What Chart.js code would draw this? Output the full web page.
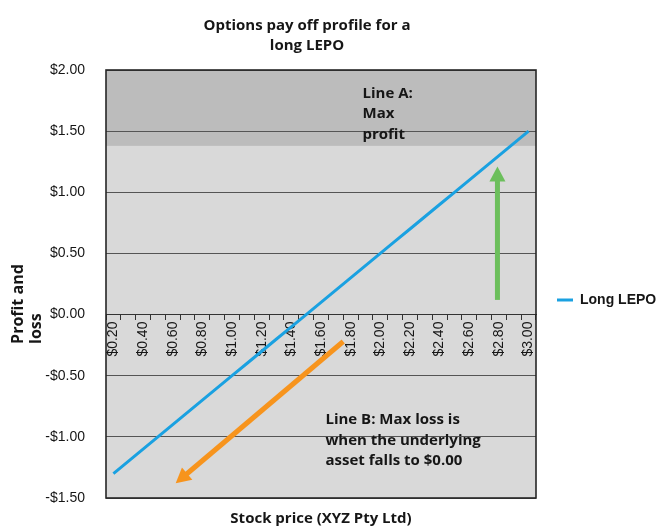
<!DOCTYPE html>
<html>
<head>
<meta charset="utf-8">
<script src="https://cdn.jsdelivr.net/npm/chart.js@4/dist/chart.umd.min.js"></script>
<style>
  html, body { margin: 0; padding: 0; background: #ffffff; }
  #wrap { width: 656px; height: 528px; }
</style>
</head>
<body>
<div id="wrap"><canvas id="chart" width="656" height="528"></canvas></div>
<script>
// Stock prices on the category axis (every other one is labelled)
const prices = [0.20, 0.30, 0.40, 0.50, 0.60, 0.70, 0.80, 0.90, 1.00, 1.10,
                1.20, 1.30, 1.40, 1.50, 1.60, 1.70, 1.80, 1.90, 2.00, 2.10,
                2.20, 2.30, 2.40, 2.50, 2.60, 2.70, 2.80, 2.90, 3.00];
// Profit / loss of the long LEPO at each price
const longLepo = [-1.30, -1.20, -1.10, -1.00, -0.90, -0.80, -0.70, -0.60, -0.50, -0.40,
                  -0.30, -0.20, -0.10, 0.00, 0.10, 0.20, 0.30, 0.40, 0.50, 0.60,
                  0.70, 0.80, 0.90, 1.00, 1.10, 1.20, 1.30, 1.40, 1.50];
const priceLabels = prices.map(p => '$' + p.toFixed(2));
const yTicks = [-1.50, -1.00, -0.50, 0.00, 0.50, 1.00, 1.50, 2.00];

// Shaded "max profit" zone starts here
const maxProfitLevel = 1.38;

// Arrows and notes in (price, profit) units
const profitArrow = { from: [2.79, 0.12], to: [2.79, 1.21] };
const lossArrow = { from: [1.75, -0.22], to: [0.62, -1.38] };
const noteA = { at: [1.88, 1.81], lines: ['Line A:', 'Max', 'profit'] };
const noteB = { at: [1.63, -0.86], lines: ['Line B: Max loss is', 'when the underlying', 'asset falls to $0.00'] };

const BLUE = '#1aa1e1';
const GREEN = '#6cbf5c';
const ORANGE = '#f7941d';
const TEXT = '#161616';
const HEAD_FONT = '"Open Sans", "Noto Sans", sans-serif';
const AXIS_FONT = '"Liberation Sans", Arial, sans-serif';

function money(v) {
  const s = '$' + Math.abs(v).toFixed(2);
  return v < 0 ? '-' + s : s;
}

function px(chart, p) {
  const x = chart.scales.x.getPixelForValue((p[0] - prices[0]) / 0.1);
  const y = chart.scales.y.getPixelForValue(p[1]);
  return [x, y];
}

function drawArrow(ctx, a, b, color, width, headLen, headW) {
  const ang = Math.atan2(b[1] - a[1], b[0] - a[0]);
  const cx = Math.cos(ang), sy = Math.sin(ang);
  const baseX = b[0] - cx * headLen, baseY = b[1] - sy * headLen;
  ctx.save();
  ctx.strokeStyle = color;
  ctx.fillStyle = color;
  ctx.lineWidth = width;
  ctx.lineCap = 'butt';
  ctx.beginPath();
  ctx.moveTo(a[0], a[1]);
  ctx.lineTo(baseX + cx, baseY + sy);
  ctx.stroke();
  ctx.beginPath();
  ctx.moveTo(b[0], b[1]);
  ctx.lineTo(baseX - sy * headW / 2, baseY + cx * headW / 2);
  ctx.lineTo(baseX + sy * headW / 2, baseY - cx * headW / 2);
  ctx.closePath();
  ctx.fill();
  ctx.restore();
}

function drawNote(ctx, chart, note) {
  const [x, y] = px(chart, note.at);
  ctx.save();
  ctx.fillStyle = TEXT;
  ctx.font = 'bold 15px ' + HEAD_FONT;
  ctx.textAlign = 'left';
  ctx.textBaseline = 'middle';
  note.lines.forEach((t, i) => ctx.fillText(t, x, y + i * 20.5));
  ctx.restore();
}

const plotDecor = {
  id: 'plotDecor',
  beforeDraw(chart) {
    const { ctx, chartArea: a } = chart;
    const yb = chart.scales.y.getPixelForValue(maxProfitLevel);
    ctx.save();
    ctx.fillStyle = '#d9d9d9';
    ctx.fillRect(a.left, a.top, a.right - a.left, a.bottom - a.top);
    ctx.fillStyle = '#bcbcbc';
    ctx.fillRect(a.left, a.top, a.right - a.left, yb - a.top);
    ctx.restore();
  },
  afterDatasetsDraw(chart) {
    const { ctx, chartArea: a } = chart;
    drawArrow(ctx, px(chart, profitArrow.from), px(chart, profitArrow.to), GREEN, 5, 15, 16);
    drawArrow(ctx, px(chart, lossArrow.from), px(chart, lossArrow.to), ORANGE, 5, 15, 16);
    drawNote(ctx, chart, noteA);
    drawNote(ctx, chart, noteB);
    ctx.save();
    ctx.strokeStyle = '#262626';
    ctx.lineWidth = 1.6;
    ctx.strokeRect(a.left, a.top, a.right - a.left, a.bottom - a.top);
    ctx.restore();
  },
  afterDraw(chart) {
    const ctx = chart.ctx;
    const base = chart.scales.y.getPixelForValue(-0.24);
    ctx.save();
    ctx.fillStyle = TEXT;
    ctx.font = 'bold 16px ' + HEAD_FONT;
    ctx.textAlign = 'left';
    ctx.textBaseline = 'middle';
    [['Profit and', 18], ['loss', 36]].forEach(([t, x]) => {
      ctx.save();
      ctx.translate(x, base);
      ctx.rotate(-Math.PI / 2);
      ctx.fillText(t, 0, 0);
      ctx.restore();
    });
    ctx.restore();
  }
};

new Chart(document.getElementById('chart'), {
  type: 'line',
  data: {
    labels: priceLabels,
    datasets: [{
      label: 'Long LEPO',
      data: longLepo,
      borderColor: BLUE,
      backgroundColor: BLUE,
      borderWidth: 3,
      pointRadius: 0,
      tension: 0,
      xAxisID: 'x',
      yAxisID: 'y'
    }]
  },
  options: {
    responsive: false,
    animation: false,
    devicePixelRatio: 1,
    // negative left padding pulls the full-width title box left so it sits over the plot + axis
    layout: { padding: { left: -42, right: 0, top: 0, bottom: 0 } },
    scales: {
      x: {
        type: 'category',
        position: { y: 0 },
        offset: true,
        grid: { display: true, drawOnChartArea: false, drawTicks: true, tickLength: 5, offset: true, color: '#333333', lineWidth: 1 },
        border: { display: true, color: '#333333', width: 1 },
        ticks: {
          autoSkip: false,
          minRotation: 90,
          maxRotation: 90,
          padding: 2,
          color: TEXT,
          font: { family: AXIS_FONT, size: 14 },
          callback: (v, i) => (i % 2 === 0 ? priceLabels[i] : '')
        }
      },
      x2: {
        type: 'category',
        position: 'bottom',
        labels: priceLabels,
        grid: { display: false },
        border: { display: false },
        ticks: { display: false },
        title: {
          display: true,
          text: 'Stock price (XYZ Pty Ltd)',
          color: TEXT,
          padding: { top: 0, bottom: 0 },
          font: { family: HEAD_FONT, size: 15, weight: 'bold', lineHeight: 1.2 }
        },
        afterFit: s => { s.height = 30; }
      },
      y: {
        type: 'linear',
        position: 'left',
        min: -1.5,
        max: 2.0,
        afterBuildTicks: s => { s.ticks = yTicks.map(v => ({ value: v })); },
        grid: { color: '#555555', lineWidth: 1, drawTicks: false },
        border: { display: false },
        ticks: {
          padding: 21,
          color: TEXT,
          font: { family: AXIS_FONT, size: 14 },
          callback: v => money(v)
        },
        afterFit: s => { s.width = 148; }
      }
    },
    plugins: {
      title: {
        display: true,
        text: ['Options pay off profile for a', 'long LEPO'],
        color: TEXT,
        padding: { top: 16, bottom: 14 },
        font: { family: HEAD_FONT, size: 15, weight: 'bold', lineHeight: 1.3334 }
      },
      legend: {
        display: true,
        position: 'right',
        fullSize: false,
        maxWidth: 120,
        title: { display: true, text: ' ', padding: 0, font: { size: 16, lineHeight: 2 } },
        labels: {
          usePointStyle: true,
          pointStyle: 'line',
          pointStyleWidth: 16,
          padding: 21,
          color: TEXT,
          font: { family: AXIS_FONT, size: 14, weight: 'bold' }
        }
      },
      tooltip: { enabled: false }
    }
  },
  plugins: [plotDecor]
});
</script>
</body>
</html>
